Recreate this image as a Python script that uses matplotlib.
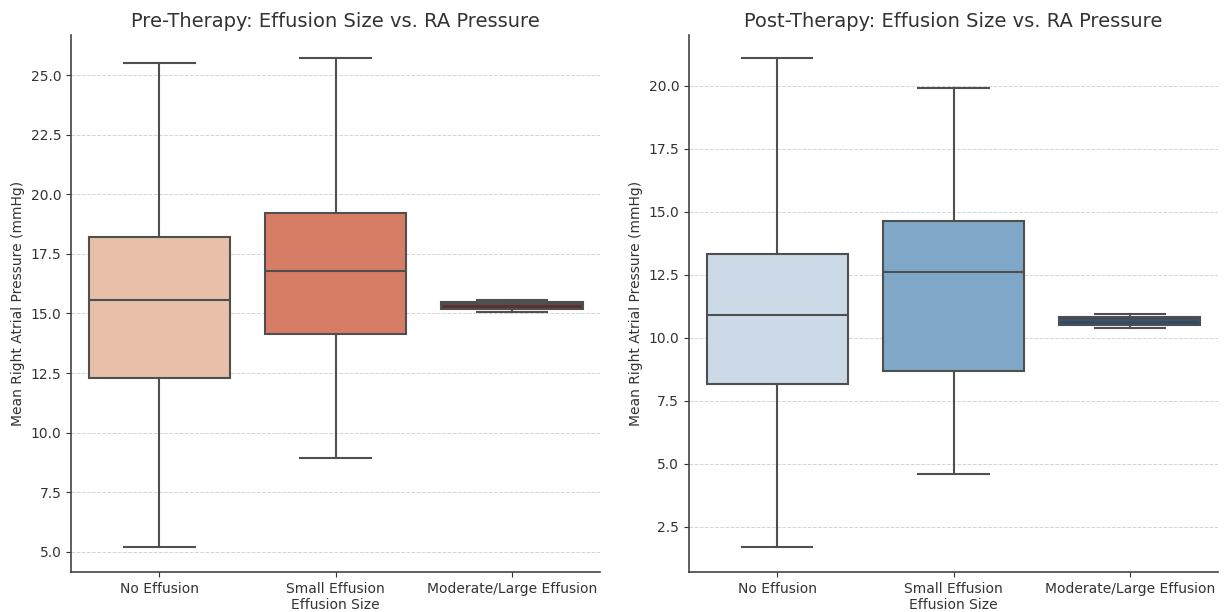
import matplotlib
matplotlib.use("Agg")
import matplotlib.pyplot as plt
from matplotlib.ticker import MultipleLocator, FormatStrFormatter

# ----- DATA -----
categories = ["No Effusion", "Small Effusion", "Moderate/Large Effusion"]

pre_whislo = [5.2, 8.95, 15.08]
pre_q1 = [12.3, 14.14, 15.2]
pre_med = [15.57, 16.78, 15.38]
pre_q3 = [18.2, 19.2, 15.47]
pre_whishi = [25.5, 25.7, 15.57]

post_whislo = [1.71, 4.6, 10.4]
post_q1 = [8.17, 8.69, 10.52]
post_med = [10.91, 12.62, 10.7]
post_q3 = [13.33, 14.64, 10.82]
post_whishi = [21.1, 19.92, 10.93]

pre_colors = ["#e8bfa8", "#d77d66", "#5c2f2f"]
post_colors = ["#ccdae8", "#7fa8c8", "#2d4d6e"]
line_color = "#4f4f4f"


def make_stats(lo, q1, med, q3, hi):
    return [dict(label=c, whislo=a, q1=b, med=m, q3=d, whishi=e, fliers=[])
            for c, a, b, m, d, e in zip(categories, lo, q1, med, q3, hi)]


def draw_box(ax, stats, colors, title, ylim):
    bp = ax.bxp(stats, positions=range(len(stats)), widths=0.8, patch_artist=True,
                showfliers=False,
                boxprops=dict(edgecolor=line_color, linewidth=1.5),
                medianprops=dict(color=line_color, linewidth=1.5),
                whiskerprops=dict(color=line_color, linewidth=1.5),
                capprops=dict(color=line_color, linewidth=1.5),
                capwidths=0.4, zorder=2)
    for patch, col in zip(bp["boxes"], colors):
        patch.set_facecolor(col)
    ax.set_xlim(-0.5, 2.5)
    ax.set_ylim(*ylim)
    ax.yaxis.set_major_locator(MultipleLocator(2.5))
    ax.yaxis.set_major_formatter(FormatStrFormatter("%.1f"))
    ax.set_title(title, fontsize=14, color="#333333")
    ax.set_xlabel("Effusion Size", fontsize=10, color="#333333", labelpad=2)
    ax.set_ylabel("Mean Right Atrial Pressure (mmHg)", fontsize=10, color="#333333")
    ax.tick_params(labelsize=10, colors="#333333")
    ax.yaxis.grid(True, linestyle="--", color="#d4d4d4", linewidth=0.7, zorder=0)
    ax.set_axisbelow(True)
    for s in ["top", "right"]:
        ax.spines[s].set_visible(False)
    for s in ["left", "bottom"]:
        ax.spines[s].set_color("#444444")
        ax.spines[s].set_linewidth(1.2)


fig = plt.figure(figsize=(12.25, 6.12), dpi=100)
ax1 = fig.add_axes([0.058, 0.0654, 0.432, 0.8775])
ax2 = fig.add_axes([0.5624, 0.0654, 0.432, 0.8775])

draw_box(ax1, make_stats(pre_whislo, pre_q1, pre_med, pre_q3, pre_whishi), pre_colors,
         "Pre-Therapy: Effusion Size vs. RA Pressure", (4.16, 26.68))
draw_box(ax2, make_stats(post_whislo, post_q1, post_med, post_q3, post_whishi), post_colors,
         "Post-Therapy: Effusion Size vs. RA Pressure", (0.71, 22.02))

fig.savefig("out.png", dpi=100)
